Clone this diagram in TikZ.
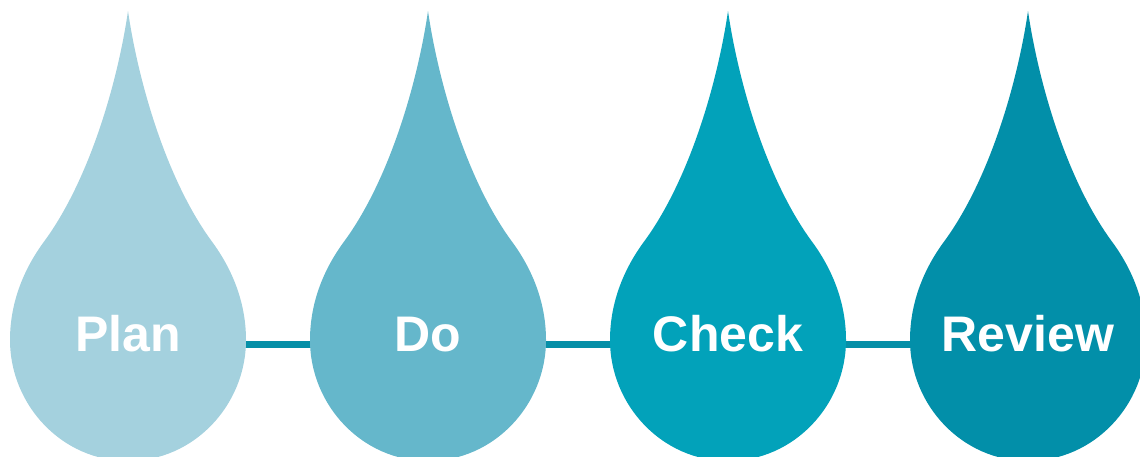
\documentclass[tikz,border=0pt]{standalone}
\usepackage{fontspec}
\setmainfont{Liberation Sans}
\definecolor{cPlan}{HTML}{A4D1DE}
\definecolor{cDo}{HTML}{65B7CB}
\definecolor{cCheck}{HTML}{02A2BA}
\definecolor{cReview}{HTML}{028FA9}
\definecolor{cLine}{HTML}{068FA7}
\tikzset{
  droplet/.pic={
    \fill[pic actions]
      (0,-329) .. controls (-10,-260) and (-38,-160) .. (-85,-97)
      .. controls (-106,-68) and (-118,-35) .. (-118,0)
      .. controls (-118,65) and (-66,121) .. (0,121)
      .. controls (66,121) and (118,65) .. (118,0)
      .. controls (118,-35) and (106,-68) .. (85,-97)
      .. controls (38,-160) and (10,-260) .. (0,-329) -- cycle;
  },
  label/.style={text=white, font=\bfseries\fontsize{50}{60}\selectfont, anchor=base, inner sep=0pt},
  link/.style={draw=cLine, line width=7.5pt},
}
\begin{document}
\begin{tikzpicture}[x=1pt,y=-1pt]
\useasboundingbox (0,0) rectangle (1140,456);
\clip (0,0) rectangle (1140,456);
\coordinate (c1) at (128,344.5);
\coordinate (c2) at (428,344.5);
\coordinate (c3) at (728,344.5);
\coordinate (c4) at (1028,344.5);
\draw[link] (c1) -- (c2);
\draw[link] (c2) -- (c3);
\draw[link] (c3) -- (c4);
\pic[fill=cPlan] at (128,340) {droplet};
\pic[fill=cDo] at (428,340) {droplet};
\pic[fill=cCheck] at (728,340) {droplet};
\pic[fill=cReview] at (1028,340) {droplet};
\node[label] (plan) at (128,351) {Plan};
\node[label] (do) at (428,351) {Do};
\node[label] (check) at (728,351) {Check};
\node[label] (review) at (1028,351) {Review};
\end{tikzpicture}
\end{document}
